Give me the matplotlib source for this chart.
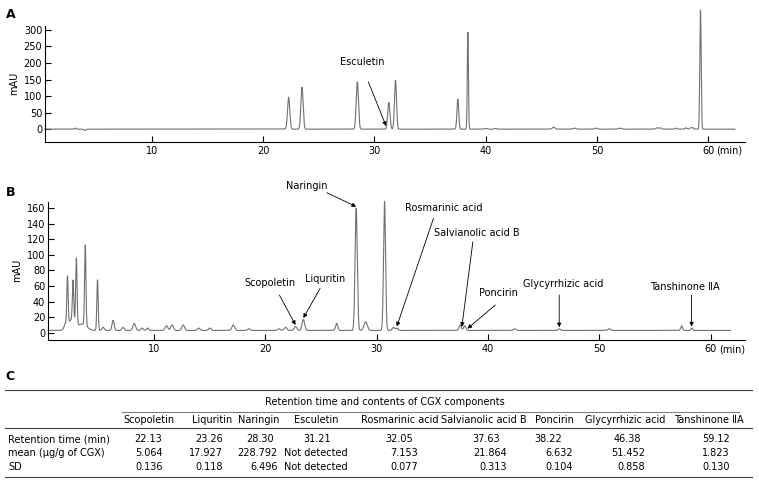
import numpy as np
import matplotlib
matplotlib.use('Agg')
import matplotlib.pyplot as plt

# panel A: standard mix, peaks (min, mAU, width in min)
a_rt = [3.1, 4.0, 22.3, 23.5, 28.47, 31.3, 31.9, 37.5, 38.4, 40.0, 40.9, 46.1,
        48.0, 49.9, 52.1, 55.4, 55.7, 57.1, 58.0, 58.4, 58.6, 59.3]
a_height = [3, -4, 96, 127, 143, 81, 148, 91, 293, 2, 2, 6,
            3, 3, 3, 4, 4, 3, 4, 4, 4, 360]
a_sigma = [0.08, 0.08, 0.1, 0.1, 0.1, 0.1, 0.09, 0.08, 0.05, 0.1, 0.1, 0.12,
           0.12, 0.12, 0.12, 0.1, 0.1, 0.08, 0.08, 0.08, 0.08, 0.06]

# panel B: CGX extract
b_rt = [2.0, 2.2, 2.6, 2.7, 3.0, 3.6, 3.8, 4.9, 5.4, 6.3, 7.2, 8.2, 8.9, 9.4,
        11.1, 11.6, 12.6, 14.0, 15.0, 17.1, 18.5, 21.2, 21.8, 22.7, 23.4, 26.4,
        28.15, 29.0, 30.7, 31.5, 31.8, 37.5, 37.9, 42.4, 46.4, 50.9, 57.4, 58.3]
b_height = [6, 62, 14, 51, 84, 8, 103, 65, 4, 13, 4, 9, 3, 3,
            6, 7, 7, 3, 3, 7, 2, 2, 4, 5, 14, 9,
            157, 11, 166, 4, 3, 7, 6, 2, 2, 2, 6, 3]
b_sigma = [0.1, 0.06, 0.35, 0.06, 0.06, 0.35, 0.06, 0.06, 0.1, 0.1, 0.1, 0.12, 0.1, 0.1,
           0.12, 0.12, 0.12, 0.12, 0.12, 0.12, 0.12, 0.12, 0.12, 0.12, 0.12, 0.1,
           0.1, 0.15, 0.09, 0.1, 0.1, 0.1, 0.1, 0.12, 0.1, 0.12, 0.08, 0.08]
b_baseline = 3

b_names = ['Scopoletin', 'Liquritin', 'Naringin', 'Rosmarinic acid',
           'Salvianolic acid B', 'Poncirin', 'Glycyrrhizic acid', 'Tanshinone \u2161A']
b_name_rt = [22.7, 23.4, 28.15, 31.8, 37.65, 38.15, 46.4, 58.3]

# table C
table_cols = ['Scopoletin', 'Liquritin', 'Naringin', 'Esculetin', 'Rosmarinic acid',
              'Salvianolic acid B', 'Poncirin', 'Glycyrrhizic acid', 'Tanshinone \u2161A']
table_rt = [22.13, 23.26, 28.30, 31.21, 32.05, 37.63, 38.22, 46.38, 59.12]
table_mean = [5.064, 17.927, 228.792, np.nan, 7.153, 21.864, 6.632, 51.452, 1.823]
table_sd = [0.136, 0.118, 6.496, np.nan, 0.077, 0.313, 0.104, 0.858, 0.130]


def trace(t, rts, heights, sigmas, base=0.0):
    y = np.full_like(t, base, dtype=float)
    for r, h, s in zip(rts, heights, sigmas):
        y += h * np.exp(-0.5 * ((t - r) / s) ** 2)
    return y


def style_axes(ax):
    for side in ['top', 'right']:
        ax.spines[side].set_visible(False)
    ax.spines['left'].set_linewidth(0.8)
    ax.spines['bottom'].set_linewidth(0.8)
    ax.tick_params(direction='in', length=4, width=0.8, labelsize=7, pad=3)
    ax.tick_params(axis='y', pad=2)


W, H = 759, 484
fig = plt.figure(figsize=(W / 100, H / 100), dpi=100)


def px_axes(left, top, right, bottom):
    return fig.add_axes([left / W, 1 - bottom / H, (right - left) / W, (bottom - top) / H])


trace_color = '#707070'
arrow = dict(arrowstyle='-|>', lw=0.6, color='black', mutation_scale=6, shrinkA=0, shrinkB=0)

# ---- panel A
axA = px_axes(45, 26, 745, 141.7)
tA = np.linspace(0.41, 62.4, 30000)
yA = trace(tA, a_rt, a_height, a_sigma)
axA.plot(tA, yA, color=trace_color, lw=0.8, clip_on=False)
axA.set_xlim(0.41, 63.3)
axA.set_ylim(-38, 312)
axA.set_yticks(range(0, 301, 50))
axA.set_xticks(range(10, 61, 10))
axA.set_xticklabels(['10', '20', '30', '40', '50', '60'])
style_axes(axA)
axA.set_ylabel('mAU', fontsize=7, labelpad=3)
axA.annotate('(min)', xy=(60, 0), xycoords=('data', 'axes fraction'),
             xytext=(6, -3), textcoords='offset points', ha='left', va='top', fontsize=7)
esc_rt = 31.05
esc_tip = trace(np.array([esc_rt]), a_rt, a_height, a_sigma)[0] + 6
axA.annotate('', xy=(esc_rt, esc_tip), xytext=(29.46, 143), arrowprops=arrow)
axA.text(28.9, 204, 'Esculetin', fontsize=7, ha='center', va='center')

# ---- panel B
axB = px_axes(48, 201.7, 745, 340)
tB = np.linspace(0.45, 61.8, 30000)
yB = trace(tB, b_rt, b_height, b_sigma, b_baseline)
axB.plot(tB, yB, color=trace_color, lw=0.8, clip_on=False)
axB.set_xlim(0.45, 63.1)
axB.set_ylim(-9.3, 168.4)
axB.set_yticks(range(0, 161, 20))
axB.set_xticks(range(10, 61, 10))
style_axes(axB)
axB.set_ylabel('mAU', fontsize=7, labelpad=3)
axB.annotate('(min)', xy=(60, 0), xycoords=('data', 'axes fraction'),
             xytext=(6, -3), textcoords='offset points', ha='left', va='top', fontsize=7)

label_xy = [(20.41, 63.5), (25.36, 68.6), (23.71, 188.6), (36.0, 159.9),
            (39.0, 127.8), (40.94, 50.6), (46.79, 62.6), (57.73, 58.4)]
arrow_from = [(21.25, 48.5), (24.91, 57.1), (25.51, 180), (35.1, 147),
              (38.64, 117), (40.65, 35.6), (46.4, 48.5), (58.3, 48.5)]
tips = trace(np.array(b_name_rt), b_rt, b_height, b_sigma, b_baseline) + 2
for name, rt, tip, (lx, ly), (sx, sy) in zip(b_names, b_name_rt, tips, label_xy, arrow_from):
    axB.annotate('', xy=(rt, tip), xytext=(sx, sy), arrowprops=arrow)
    axB.text(lx, ly, name, fontsize=7, ha='center', va='center')

# ---- overlay in pixel coords for panel letters and table
ov = fig.add_axes([0, 0, 1, 1])
ov.set_xlim(0, W)
ov.set_ylim(H, 0)
ov.axis('off')
ov.patch.set_alpha(0)
for letter, x, y in [('A', 11, 14), ('B', 11, 192), ('C', 10, 377)]:
    ov.text(x, y, letter, fontsize=9, fontweight='bold', ha='center', va='center')

line_kw = dict(color='#404040', lw=0.8)
ov.plot([5, 752], [390, 390], **line_kw)
ov.plot([122, 739], [412, 412], color='#808080', lw=0.8)
ov.plot([5, 752], [428, 428], **line_kw)
ov.plot([5, 752], [477, 477], **line_kw)
ov.text(385, 402, 'Retention time and contents of CGX components', fontsize=7,
        ha='center', va='center')

hdr_x = [148.7, 212.5, 259, 316, 400, 484, 554, 625, 709]
rt_x = [148.5, 209.5, 260, 317, 399, 486, 548, 627, 716]
val_x = [163, 223, 278, 318, 418, 507, 573, 645, 730]
row_y = [439, 453, 466.5]
row_names = ['Retention time (min)', 'mean (\u03bcg/g of CGX)', 'SD']

for name, y in zip(row_names, row_y):
    ov.text(8, y, name, fontsize=7, ha='left', va='center')

for i, col in enumerate(table_cols):
    ov.text(hdr_x[i], 420, col, fontsize=7, ha='center', va='center')
    ov.text(rt_x[i], row_y[0], '{:.2f}'.format(table_rt[i]), fontsize=7, ha='center', va='center')
    for v, y in zip([table_mean[i], table_sd[i]], row_y[1:]):
        if np.isnan(v):
            ov.text(hdr_x[i], y, 'Not detected', fontsize=7, ha='center', va='center')
        else:
            ov.text(val_x[i], y, '{:.3f}'.format(v), fontsize=7, ha='right', va='center')

fig.savefig('out.png', dpi=100)
